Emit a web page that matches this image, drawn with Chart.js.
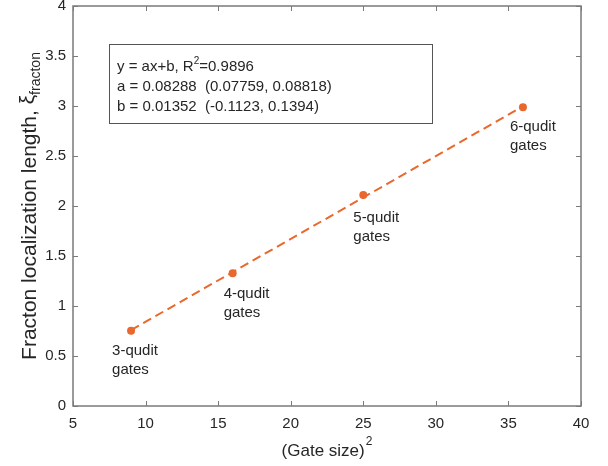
<!DOCTYPE html>
<html>
<head>
<meta charset="utf-8">
<script src="https://cdn.jsdelivr.net/npm/chart.js@4.4.1/dist/chart.umd.min.js"></script>
<style>
  html, body { margin: 0; padding: 0; background: #fff; }
  #wrap { width: 608px; height: 466px; }
</style>
</head>
<body>
<div id="wrap"><canvas id="fractonChart"></canvas></div>
<script>
// ============ DATA ============
const gateSizeSq = [9, 16, 25, 36];
const xiFracton = [0.753, 1.327, 2.11, 2.987];
const gateLabels = [['3-qudit', 'gates'], ['4-qudit', 'gates'], ['5-qudit', 'gates'], ['6-qudit', 'gates']];
const fitX = [9, 36];
const fitY = [0.759, 2.997];
const xTicks = [5, 10, 15, 20, 25, 30, 35, 40];
const yTicks = [0, 0.5, 1, 1.5, 2, 2.5, 3, 3.5, 4];
const yTickLabels = ['0', '0.5', '1', '1.5', '2', '2.5', '3', '3.5', '4'];
const fitR2 = '0.9896';
const fitLines = ['a = 0.08288  (0.07759, 0.08818)', 'b = 0.01352  (-0.1123, 0.1394)'];

const ORANGE = '#e9682d';
const TEXT = '#262626';
const AXIS = '#7a7a7a';
const FONT = '"Liberation Sans", Arial, sans-serif';

// ============ PLUGINS ============
const matlabAxes = {
    id: 'matlabAxes',
    afterDraw(chart) {
        const { ctx, chartArea: a, scales } = chart;
        ctx.save();
        ctx.strokeStyle = AXIS;
        ctx.lineWidth = 1.5;
        ctx.strokeRect(a.left, a.top, a.right - a.left, a.bottom - a.top);
        ctx.lineWidth = 1;
        ctx.beginPath();
        xTicks.forEach(v => {
            const px = Math.round(scales.x.getPixelForValue(v)) + 0.5;
            ctx.moveTo(px, a.bottom); ctx.lineTo(px, a.bottom - 5);
            ctx.moveTo(px, a.top); ctx.lineTo(px, a.top + 5);
        });
        yTicks.forEach(v => {
            const py = Math.round(scales.y.getPixelForValue(v)) + 0.5;
            ctx.moveTo(a.left, py); ctx.lineTo(a.left + 5, py);
            ctx.moveTo(a.right, py); ctx.lineTo(a.right - 5, py);
        });
        ctx.stroke();

        // axis titles
        ctx.fillStyle = TEXT;
        ctx.textBaseline = 'alphabetic';
        // x title with superscript
        ctx.font = '17px ' + FONT;
        const xt = '(Gate size)';
        const wMain = ctx.measureText(xt).width;
        ctx.font = '12px ' + FONT;
        const wSup = ctx.measureText('2').width;
        const cx = (a.left + a.right) / 2;
        let x0 = cx - (wMain + wSup + 1) / 2;
        ctx.font = '17px ' + FONT;
        ctx.textAlign = 'left';
        ctx.fillText(xt, x0, 456);
        ctx.font = '12px ' + FONT;
        ctx.fillText('2', x0 + wMain + 1, 445);

        // y title rotated with subscript
        ctx.save();
        ctx.translate(36, (a.top + a.bottom) / 2);
        ctx.rotate(-Math.PI / 2);
        ctx.font = '21px ' + FONT;
        const yt = 'Fracton localization length, ';
        const w1 = ctx.measureText(yt).width;
        const w2 = ctx.measureText('\u03be').width;
        ctx.font = '14px ' + FONT;
        const w3 = ctx.measureText('fracton').width;
        let y0 = -(w1 + w2 + w3) / 2;
        ctx.font = '21px ' + FONT;
        ctx.fillText(yt, y0, 0);
        ctx.fillText('\u03be', y0 + w1, -2);
        ctx.font = '14px ' + FONT;
        ctx.fillText('fracton', y0 + w1 + w2, 4);
        ctx.restore();

        // gate labels next to points
        const offsets = [[-19, 20], [-9, 21], [-10, 23], [-13, 20]];
        ctx.font = '15px ' + FONT;
        ctx.textBaseline = 'middle';
        ctx.textAlign = 'left';
        gateLabels.forEach((lines, i) => {
            const px = scales.x.getPixelForValue(gateSizeSq[i]) + offsets[i][0];
            const py = scales.y.getPixelForValue(xiFracton[i]) + offsets[i][1];
            lines.forEach((t, k) => ctx.fillText(t, px, py + k * 19));
        });

        // fit annotation box
        const bx = a.left + 36, by = a.top + 38, bw = 323, bh = 79;
        ctx.fillStyle = '#fff';
        ctx.fillRect(bx, by, bw, bh);
        ctx.strokeStyle = '#555';
        ctx.lineWidth = 1;
        ctx.strokeRect(bx + 0.5, by + 0.5, bw, bh);
        ctx.fillStyle = TEXT;
        ctx.font = '15px ' + FONT;
        const tx = bx + 8;
        const head = 'y = ax+b, R';
        ctx.fillText(head, tx, by + 23);
        const hw = ctx.measureText(head).width;
        ctx.font = '10px ' + FONT;
        ctx.fillText('2', tx + hw, by + 17);
        const sw = ctx.measureText('2').width;
        ctx.font = '15px ' + FONT;
        ctx.fillText('=' + fitR2, tx + hw + sw, by + 23);
        fitLines.forEach((t, k) => ctx.fillText(t, tx, by + 43 + k * 20));
        ctx.restore();
    }
};

// ============ CHART ============
const ctx = document.getElementById('fractonChart');
new Chart(ctx, {
    type: 'scatter',
    data: {
        datasets: [
            {
                label: 'fit',
                data: fitX.map((x, i) => ({ x: x, y: fitY[i] })),
                showLine: true,
                borderColor: ORANGE,
                borderWidth: 2,
                borderDash: [9, 5],
                pointRadius: 0,
                fill: false,
            },
            {
                label: 'data',
                data: gateSizeSq.map((x, i) => ({ x: x, y: xiFracton[i] })),
                backgroundColor: ORANGE,
                borderColor: ORANGE,
                pointRadius: 4,
                pointBorderWidth: 0,
            }
        ]
    },
    options: {
        responsive: true,
        maintainAspectRatio: false,
        animation: false,
        layout: { padding: { top: 6, right: 27, left: 0, bottom: 0 } },
        plugins: {
            legend: { display: false },
            tooltip: { enabled: false }
        },
        scales: {
            x: {
                type: 'linear',
                min: 5, max: 40,
                afterBuildTicks: s => { s.ticks = xTicks.map(v => ({ value: v })); },
                afterFit: s => { s.height = 60; s.paddingLeft = 0; s.paddingRight = 0; },
                ticks: {
                    padding: 9,
                    color: TEXT,
                    font: { family: FONT, size: 15 },
                    maxRotation: 0,
                    callback: v => String(v)
                },
                grid: { display: false, drawTicks: false },
                border: { display: false }
            },
            y: {
                type: 'linear',
                min: 0, max: 4,
                afterBuildTicks: s => { s.ticks = yTicks.map(v => ({ value: v })); },
                afterFit: s => { s.width = 73; s.paddingTop = 0; s.paddingBottom = 0; },
                ticks: {
                    padding: 7,
                    color: TEXT,
                    font: { family: FONT, size: 15 },
                    callback: (v, i) => yTickLabels[i]
                },
                grid: { display: false, drawTicks: false },
                border: { display: false }
            }
        }
    },
    plugins: [matlabAxes]
});
</script>
</body>
</html>
